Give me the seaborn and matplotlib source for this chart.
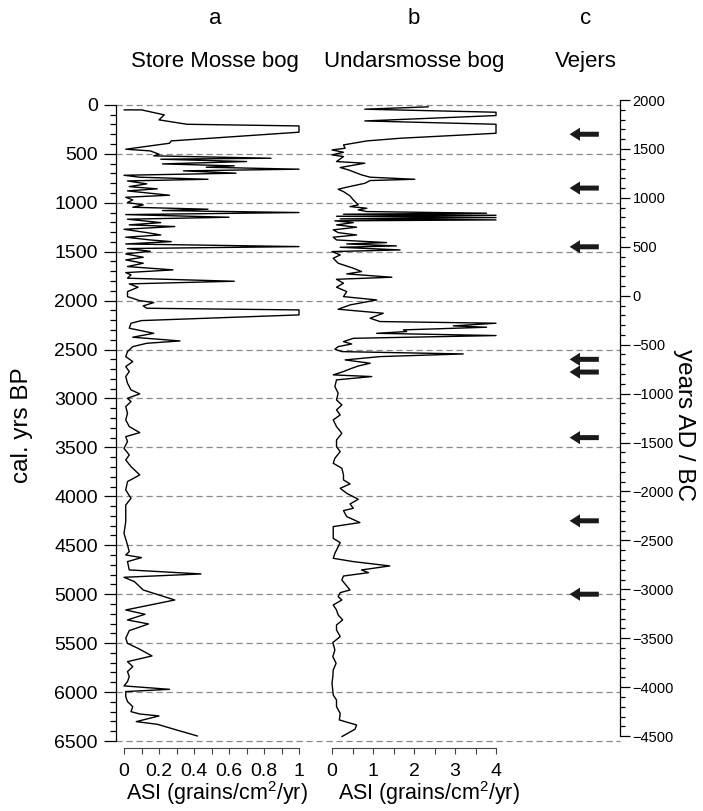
import matplotlib
matplotlib.use("Agg")
import matplotlib.pyplot as plt
from matplotlib.ticker import MultipleLocator, FixedLocator
import seaborn as sns
import pandas as pd
import numpy as np

# ---------------- data ----------------
# a: Store Mosse bog  (cal. yrs BP, ASI grains/cm2/yr)
store_bp = [51, 51, 102, 153, 198, 215, 279, 368, 392, 453,
            470, 504, 521, 545, 555, 579, 603, 623, 637, 657,
            674, 698, 719, 739, 760, 777, 807, 835, 858, 879,
            903, 923, 944, 971, 998, 1022, 1046, 1066, 1080, 1100,
            1121, 1148, 1168, 1203, 1226, 1243, 1271, 1305, 1329, 1352,
            1380, 1397, 1421, 1448, 1468, 1496, 1523, 1557, 1584, 1618,
            1652, 1686, 1714, 1737, 1771, 1802, 1829, 1863, 1908, 1959,
            2000, 2020, 2054, 2078, 2095, 2146, 2204, 2231, 2282, 2334,
            2374, 2412, 2436, 2470, 2521, 2572, 2623, 2674, 2725, 2776,
            2844, 2912, 2953, 2998, 3032, 3083, 3151, 3219, 3287, 3349,
            3390, 3441, 3509, 3577, 3628, 3696, 3781, 3849, 3935, 4020,
            4088, 4173, 4258, 4378, 4497, 4565, 4599, 4626, 4667, 4752,
            4793, 4827, 4872, 4923, 4957, 5059, 5161, 5205, 5263, 5304,
            5372, 5450, 5502, 5553, 5631, 5689, 5740, 5791, 5842, 5893,
            5937, 5972, 5995, 6046, 6097, 6149, 6200, 6224, 6244, 6302,
            6329, 6387, 6449]
store_asi = [0.0, 0.10, 0.23, 0.20, 0.36, 1.0, 1.0, 0.27, 0.26, 0.01,
             0.15, 0.20, 0.17, 0.84, 0.21, 0.70, 0.22, 0.63, 0.47, 1.0,
             0.34, 0.64, 0.0, 0.09, 0.48, 0.02, 0.13, 0.03, 0.19, 0.02,
             0.15, 0.26, 0.01, 0.05, 0.02, 0.11, 0.05, 0.48, 0.22, 1.0,
             0.01, 0.60, 0.02, 0.21, 0.03, 0.29, 0.0, 0.13, 0.21, 0.01,
             0.15, 0.27, 0.01, 1.0, 0.02, 0.15, 0.01, 0.11, 0.01, 0.11,
             0.02, 0.28, 0.01, 0.04, 0.02, 0.63, 0.03, 0.08, 0.02, 0.02,
             0.09, 0.17, 0.11, 0.13, 1.0, 1.0, 0.10, 0.04, 0.03, 0.17,
             0.05, 0.32, 0.13, 0.05, 0.02, 0.01, 0.05, 0.01, 0.03, 0.01,
             0.02, 0.04, 0.09, 0.02, 0.04, 0.01, 0.02, 0.01, 0.03, 0.09,
             0.01, 0.02, 0.0, 0.03, 0.01, 0.04, 0.09, 0.02, 0.01, 0.04,
             0.01, 0.01, 0.01, 0.0, 0.02, 0.03, 0.01, 0.10, 0.02, 0.03,
             0.44, 0.0, 0.06, 0.09, 0.11, 0.29, 0.01, 0.12, 0.02, 0.14,
             0.03, 0.01, 0.02, 0.08, 0.16, 0.02, 0.05, 0.02, 0.03, 0.02,
             0.0, 0.26, 0.01, 0.01, 0.02, 0.05, 0.04, 0.09, 0.20, 0.07,
             0.19, 0.30, 0.42]

# b: Undarsmosse bog
undars_bp = [20, 44, 75, 109, 164, 198, 290, 341, 368, 409,
             443, 460, 484, 511, 528, 579, 596, 640, 664, 715,
             739, 760, 773, 801, 841, 862, 886, 930, 971, 1022,
             1039, 1056, 1073, 1090, 1107, 1117, 1128, 1138, 1151, 1165,
             1175, 1185, 1203, 1226, 1250, 1277, 1305, 1329, 1352, 1380,
             1407, 1421, 1441, 1455, 1482, 1499, 1533, 1567, 1618, 1669,
             1703, 1727, 1761, 1782, 1822, 1863, 1908, 1959, 1993, 2044,
             2088, 2129, 2180, 2214, 2231, 2258, 2272, 2299, 2316, 2334,
             2357, 2385, 2419, 2443, 2470, 2497, 2521, 2545, 2572, 2606,
             2640, 2668, 2698, 2725, 2759, 2776, 2810, 2878, 2946, 3015,
             3066, 3117, 3168, 3219, 3287, 3356, 3424, 3492, 3543, 3611,
             3662, 3713, 3781, 3832, 3873, 3918, 3969, 4030, 4078, 4122,
             4146, 4207, 4268, 4309, 4429, 4473, 4514, 4582, 4633, 4667,
             4711, 4752, 4780, 4814, 4855, 4957, 4984, 5025, 5059, 5110,
             5161, 5212, 5263, 5314, 5365, 5433, 5494, 5570, 5638, 5706,
             5774, 5842, 5910, 5985, 6030, 6081, 6149, 6217, 6285, 6336,
             6380, 6455]
undars_asi = [2.35, 0.8, 4.0, 4.0, 0.8, 4.0, 4.0, 1.66, 0.85, 0.28,
              0.32, 0.0, 0.28, 0.0, 0.28, 0.11, 0.8, 0.2, 0.4, 0.72,
              0.93, 2.02, 0.93, 0.8, 0.36, 0.15, 0.28, 0.44, 0.52, 0.64,
              0.44, 0.85, 0.64, 0.85, 3.77, 0.28, 4.0, 0.11, 4.0, 0.2,
              4.0, 0.07, 0.52, 0.11, 0.6, 0.03, 0.15, 0.6, 0.03, 0.11,
              1.33, 0.36, 1.57, 0.2, 1.66, 0.0, 0.2, 0.03, 0.15, 0.52,
              0.72, 0.36, 1.46, 0.11, 0.28, 0.11, 0.36, 0.28, 1.09, 0.44,
              0.15, 1.25, 0.93, 1.17, 4.0, 2.96, 3.77, 1.74, 1.82, 1.09,
              4.0, 0.52, 0.28, 0.48, 0.15, 0.07, 0.24, 3.2, 1.17, 0.32,
              0.93, 0.64, 0.44, 0.28, 0.03, 0.97, 0.11, 0.07, 0.15, 0.11,
              0.24, 0.11, 0.2, 0.03, 0.11, 0.24, 0.11, 0.11, 0.2, 0.07,
              0.03, 0.24, 0.28, 0.28, 0.44, 0.2, 0.36, 0.64, 0.44, 0.52,
              0.28, 0.36, 0.68, 0.03, 0.03, 0.2, 0.15, 0.07, 0.03, 0.52,
              1.41, 0.72, 0.89, 0.28, 0.24, 0.44, 0.2, 0.15, 0.24, 0.03,
              0.11, 0.15, 0.26, 0.11, 0.11, 0.2, 0.02, 0.07, 0.02, 0.1,
              0.03, 0.02, 0.0, 0.02, 0.03, 0.11, 0.11, 0.2, 0.18, 0.6,
              0.56, 0.24]

# c: Vejers sand-drift events (cal. yrs BP)
vejers_bp = [300, 850, 1450, 2600, 2730, 3400, 4250, 5000]

panel_letters = ["a", "b", "c"]
panel_titles = ["Store Mosse bog", "Undarsmosse bog", "Vejers"]
xlabel_text = "ASI (grains/cm$^{2}$/yr)"
ylabel_left = "cal. yrs BP"
ylabel_right = "years AD / BC"

# ---------------- style ----------------
sns.set_theme(style="white")
plt.rcParams["font.family"] = ["Liberation Sans", "DejaVu Sans"]
plt.rcParams["mathtext.fontset"] = "custom"
plt.rcParams["mathtext.rm"] = "Liberation Sans"
plt.rcParams["mathtext.it"] = "Liberation Sans:italic"
plt.rcParams["mathtext.bf"] = "Liberation Sans:bold"
plt.rcParams["axes.linewidth"] = 0.9
for key in ["text.color", "axes.labelcolor", "xtick.color", "ytick.color",
            "axes.edgecolor"]:
    plt.rcParams[key] = "black"

W, H = 703, 811
fig = plt.figure(figsize=(W / 100, H / 100), dpi=100)


def fx(px):
    return px / W


def fy(py):
    return 1 - py / H


top_px, bot_px = 100, 741
ax_bottom = fy(bot_px)
ax_height = (bot_px - top_px) / H
YLIM = (6500, -50)

# background axis: left BP scale, dashed guide lines, arrows
ax = fig.add_axes([fx(116), ax_bottom, fx(620 - 116), ax_height])
ax.set_xlim(0, 1)
ax.set_ylim(*YLIM)
ax.patch.set_alpha(0)
for s in ["top", "bottom", "right"]:
    ax.spines[s].set_visible(False)
ax.spines["left"].set_bounds(0, 6500)
ax.spines["left"].set_color("black")
ax.yaxis.set_major_locator(MultipleLocator(500))
ax.yaxis.set_minor_locator(MultipleLocator(100))
ax.tick_params(axis="y", which="major", direction="out", length=9, width=0.9,
               color="black", labelcolor="black", labelsize=14, pad=4, left=True)
ax.tick_params(axis="y", which="minor", direction="out", length=4.5, width=0.9,
               color="black", left=True)
ax.tick_params(axis="x", bottom=False, labelbottom=False)
for yv in range(0, 6501, 500):
    ax.axhline(yv, color="#8a8a8a", lw=0.9, ls=(0, (5, 3)), zorder=0,
               clip_on=False)

for ev in vejers_bp:
    ax.annotate("", xy=(0.900, ev), xytext=(0.958, ev),
                arrowprops=dict(facecolor="#1a1a1a", edgecolor="none",
                                width=3.6, headwidth=9.5, headlength=7.5, shrink=0))

# right AD/BC axis
axr = ax.twinx()
axr.set_ylim(1950 - YLIM[0], 1950 - YLIM[1])
for s in ["top", "bottom", "left"]:
    axr.spines[s].set_visible(False)
axr.spines["right"].set_bounds(-4500, 2000)
axr.spines["right"].set_color("black")
axr.yaxis.set_major_locator(FixedLocator(np.arange(-4500, 2001, 500)))
axr.yaxis.set_minor_locator(FixedLocator(np.arange(-4500, 2001, 100)))
axr.tick_params(axis="y", which="major", direction="out", length=7, width=0.9,
                color="black", labelcolor="black", labelsize=10.5, pad=2, right=True)
axr.tick_params(axis="y", which="minor", direction="out", length=3.5, width=0.9,
                color="black", right=True)
axr.grid(False)
ax.grid(False)


def panel(left_px, right_px, zero_px, unit_px, bp, vals, xmax, major, minor, fmt):
    a = fig.add_axes([fx(left_px), ax_bottom, fx(right_px - left_px), ax_height])
    a.patch.set_alpha(0)
    df = pd.DataFrame({"bp": bp, "asi": vals})
    sns.lineplot(data=df, x="asi", y="bp", sort=False, estimator=None,
                 orient="y", color="black", lw=1.0, ax=a)
    a.set_ylim(*YLIM)
    a.set_xlim((left_px - zero_px) / unit_px, (right_px - zero_px) / unit_px)
    for s in ["top", "left", "right"]:
        a.spines[s].set_visible(False)
    a.spines["bottom"].set_position(("outward", 5))
    a.spines["bottom"].set_bounds(0, xmax)
    a.spines["bottom"].set_color("#444444")
    a.spines["bottom"].set_linewidth(0.8)
    a.set_yticks([])
    a.set_ylabel("")
    a.xaxis.set_major_locator(FixedLocator(major))
    a.xaxis.set_minor_locator(FixedLocator(minor))
    a.set_xticklabels([fmt(v) for v in major])
    a.tick_params(axis="x", which="both", direction="out", length=4.5, width=0.8,
                  color="#444444", labelcolor="black", labelsize=14, pad=6,
                  bottom=True)
    a.set_xlabel(xlabel_text, fontsize=15.5, labelpad=0, color="black")
    a.grid(False)
    return a


ax_a = panel(116, 318, 124, 175, store_bp, store_asi, 1.0,
             [0, 0.2, 0.4, 0.6, 0.8, 1.0], np.arange(0, 1.01, 0.1),
             lambda v: "0" if v == 0 else ("1" if v == 1 else f"{v:.1f}"))
ax_b = panel(318, 540, 332, 41, undars_bp, undars_asi, 4.0,
             [0, 1, 2, 3, 4], np.arange(0, 4.01, 0.5),
             lambda v: f"{int(v)}")

# titles
for xc, letter, title in zip([215, 414, 586], panel_letters, panel_titles):
    fig.text(fx(xc), fy(18), letter, ha="center", va="center", fontsize=16,
             color="black")
    fig.text(fx(xc), fy(62), title, ha="center", va="center", fontsize=16,
             color="black")

fig.text(fx(22), fy(425), ylabel_left, rotation=90, ha="center", va="center",
         fontsize=17.5, color="black")
fig.text(fx(684), fy(425), ylabel_right, rotation=-90, ha="center", va="center",
         fontsize=17.5, color="black")

fig.savefig("out.png", dpi=100)
